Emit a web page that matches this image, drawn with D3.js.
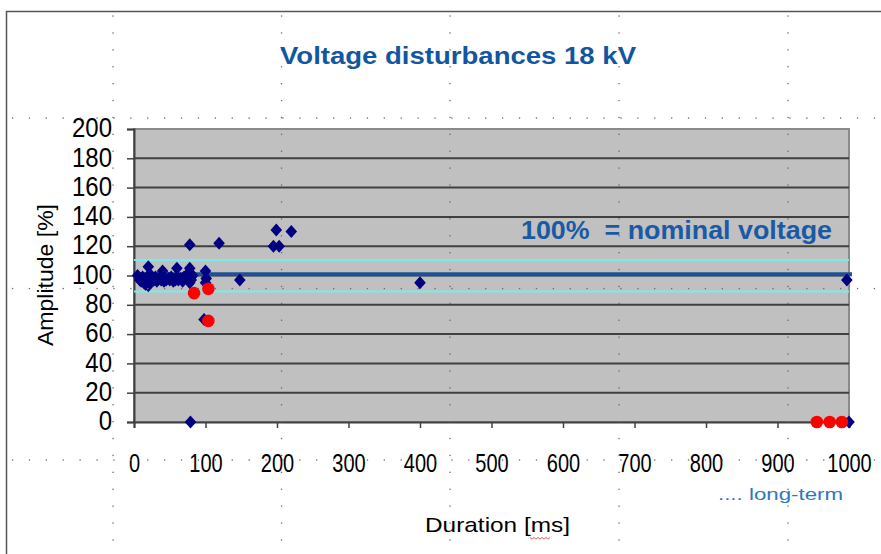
<!DOCTYPE html>
<html>
<head>
<meta charset="utf-8">
<script src="https://cdn.jsdelivr.net/npm/d3@7"></script>
<style>
  body { margin: 0; background: #fff; }
  svg { display: block; font-family: "Liberation Sans", Arial, sans-serif; }
</style>
</head>
<body>
<div class="chart"></div>
<script>
// Data
const durationTicks = [0, 100, 200, 300, 400, 500, 600, 700, 800, 900, 1000];
const amplitudeTicks = [0, 20, 40, 60, 80, 100, 120, 140, 160, 180, 200];

// diamonds: [duration ms, amplitude %]
const normalEvents = [
  [5, 100], [8, 97], [10, 96], [12, 99], [14, 95], [16, 94], [18, 97], [20, 93], [20, 106],
  [22, 101], [24, 96], [25, 98], [28, 97], [30, 99], [32, 96], [35, 98], [38, 97], [40, 103],
  [40, 98], [42, 96], [45, 97], [48, 98], [50, 97], [52, 99], [55, 96], [58, 97], [60, 105],
  [60, 99], [62, 97], [65, 98], [68, 96], [70, 99], [75, 101], [78, 105], [78, 95], [80, 99],
  [80, 97], [82, 100], [78, 121], [79, 0], [98, 70], [100, 103], [100, 95], [101, 98],
  [119, 122], [148, 97], [195, 120], [199, 131], [203, 120], [220, 130], [400, 95],
  [997, 97], [1000, 0]
];
// red circles
const flaggedEvents = [[84, 88], [104, 91], [104, 69], [955, 0], [973, 0], [990, 0]];

const nominalLevel = 100.8;
const bandLevels = [110.5, 89];

const width = 881, height = 554;
const plot = {left: 134, right: 849, top: 129, bottom: 422};

const svg = d3.select(".chart").append("svg")
  .attr("width", width)
  .attr("height", height);

const x = d3.scaleLinear().domain([0, 1000]).range([plot.left, plot.right]);
const y = d3.scaleLinear().domain([0, 200]).range([plot.bottom, plot.top]);

// slide frame
svg.append("path")
  .attr("d", `M6.5,${height} V11.5 H${width}`)
  .attr("fill", "none")
  .attr("stroke", "#555")
  .attr("stroke-width", 1.5);

// plot background
svg.append("rect")
  .attr("x", plot.left).attr("y", plot.top)
  .attr("width", plot.right - plot.left).attr("height", plot.bottom - plot.top)
  .attr("fill", "#c0c0c0")
  .attr("stroke", "#8a8a8a")
  .attr("stroke-width", 2);

// horizontal gridlines
svg.append("g").selectAll("line")
  .data(amplitudeTicks.filter(d => d > 0 && d < 200))
  .join("line")
  .attr("x1", plot.left).attr("x2", plot.right)
  .attr("y1", d => y(d)).attr("y2", d => y(d))
  .attr("stroke", "#404040")
  .attr("stroke-width", 2);

// axes
const yAxis = d3.axisLeft(y).tickValues(amplitudeTicks).tickSize(7).tickPadding(15);
const gy = svg.append("g").attr("transform", `translate(${plot.left},0)`).call(yAxis);
gy.select(".domain").attr("stroke", "#404040").attr("stroke-width", 2);
gy.selectAll(".tick line").attr("stroke", "#404040").attr("stroke-width", 1.5);
gy.selectAll(".tick text").attr("font-size", 24).attr("fill", "#000")
  .attr("font-family", "'Liberation Sans', Arial, sans-serif")
  .attr("transform", "scale(1,1.12)")
  .attr("dy", "0.29em");

const xAxis = d3.axisBottom(x).tickValues(durationTicks).tickFormat(d3.format("d"))
  .tickSize(6).tickPadding(26);
const gx = svg.append("g").attr("transform", `translate(0,${plot.bottom})`).call(xAxis);
gx.select(".domain").attr("stroke", "#404040").attr("stroke-width", 2);
gx.selectAll(".tick line").attr("stroke", "#404040").attr("stroke-width", 1.5);
gx.selectAll(".tick text").attr("font-size", 25).attr("fill", "#000")
  .attr("font-family", "'Liberation Sans', Arial, sans-serif")
  .attr("transform", "scale(0.8,1)");

// tolerance band and nominal line
svg.append("g").selectAll("line")
  .data(bandLevels)
  .join("line")
  .attr("x1", plot.left).attr("x2", plot.right)
  .attr("y1", d => y(d)).attr("y2", d => y(d))
  .attr("stroke", "#78ecec")
  .attr("stroke-width", 2);

svg.append("line")
  .attr("x1", plot.left).attr("x2", plot.right + 3)
  .attr("y1", y(nominalLevel)).attr("y2", y(nominalLevel))
  .attr("stroke", "#1c5294")
  .attr("stroke-width", 4);

// markers: Excel-style diamond, a bit wider than d3's
const excelDiamond = {
  draw(ctx) {
    ctx.moveTo(0, -6.5);
    ctx.lineTo(5.8, 0);
    ctx.lineTo(0, 6.5);
    ctx.lineTo(-5.8, 0);
    ctx.closePath();
  }
};
const diamond = d3.symbol().type(excelDiamond);
svg.append("g").selectAll("path")
  .data(normalEvents)
  .join("path")
  .attr("d", diamond)
  .attr("transform", d => `translate(${x(d[0])},${y(d[1])})`)
  .attr("fill", "#000080");

svg.append("g").selectAll("circle")
  .data(flaggedEvents)
  .join("circle")
  .attr("cx", d => x(d[0]))
  .attr("cy", d => y(d[1]))
  .attr("r", 6.3)
  .attr("fill", "#ff0000");

// background dot grid of the slide
const dotStep = 16.9;
const dots = [];
[118, 288.5, 460].forEach(yy => {
  for (let xx = 12.5; xx < width; xx += dotStep) dots.push([xx, yy]);
});
[113, 281.5, 450, 619, 788].forEach(xx => {
  for (let yy = 16; yy < height; yy += dotStep) dots.push([xx, yy]);
});
svg.append("g").selectAll("rect")
  .data(dots)
  .join("rect")
  .attr("x", d => d[0] - 0.6).attr("y", d => d[1] - 0.6)
  .attr("width", 1.3).attr("height", 1.3)
  .attr("fill", "#6a6a6a");

// texts
svg.append("text")
  .attr("x", 280).attr("y", 64)
  .attr("font-size", 24).attr("font-weight", "bold")
  .attr("fill", "#1256a0")
  .attr("textLength", 356).attr("lengthAdjust", "spacingAndGlyphs")
  .text("Voltage disturbances 18 kV");

svg.append("text")
  .attr("x", 521).attr("y", 239)
  .attr("font-size", 25).attr("font-weight", "bold")
  .attr("fill", "#1a5aa5")
  .style("white-space", "pre")
  .attr("textLength", 311).attr("lengthAdjust", "spacingAndGlyphs")
  .text("100%  = nominal voltage");

svg.append("text")
  .attr("transform", "translate(53,275) rotate(-90)")
  .attr("text-anchor", "middle")
  .attr("font-size", 22)
  .attr("fill", "#000")
  .attr("textLength", 142).attr("lengthAdjust", "spacingAndGlyphs")
  .text("Amplitude [%]");

svg.append("text")
  .attr("x", 425).attr("y", 532)
  .attr("font-size", 21)
  .attr("fill", "#000")
  .attr("textLength", 145).attr("lengthAdjust", "spacingAndGlyphs")
  .text("Duration [ms]");

// spell-check squiggle under "ms"
const squiggle = d3.range(0, 11).map(i => [530 + i * 2, 538 + (i % 2 ? 1.2 : -0.6)]);
svg.append("path")
  .attr("d", d3.line()(squiggle))
  .attr("fill", "none")
  .attr("stroke", "#e03030")
  .attr("stroke-width", 0.8);

svg.append("text")
  .attr("x", 718).attr("y", 500)
  .attr("font-size", 17)
  .attr("fill", "#2e78be")
  .attr("textLength", 125).attr("lengthAdjust", "spacingAndGlyphs")
  .text(".... long-term");
</script>
</body>
</html>
